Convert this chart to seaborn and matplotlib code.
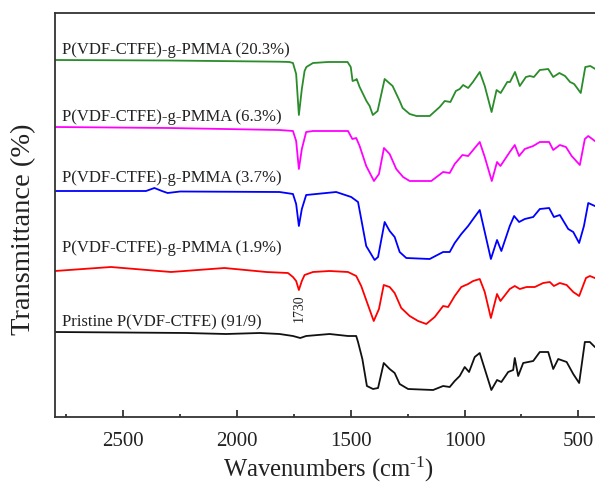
import matplotlib
matplotlib.use("Agg")
import matplotlib.pyplot as plt
from matplotlib.ticker import MultipleLocator
import seaborn as sns
import pandas as pd

sns.set_theme(style="ticks")
plt.rcParams['font.family'] = ['Liberation Serif', 'DejaVu Serif']
plt.rcParams['mathtext.fontset'] = 'custom'
plt.rcParams['mathtext.rm'] = 'Liberation Serif'
plt.rcParams['mathtext.it'] = 'Liberation Serif:italic'

# FTIR spectra (wavenumber cm-1, transmittance in arbitrary offset units)
wn_203 = [2800, 2300, 1813, 1770, 1754, 1740, 1728, 1715, 1703, 1695, 1666, 1600, 1514, 1500, 1492,
          1479, 1474, 1461, 1431, 1417, 1403, 1382, 1351, 1316, 1285, 1272, 1241, 1211, 1153, 1109,
          1087, 1062, 1038, 1021, 1006, 984, 963, 933, 911, 881, 859, 841, 812, 800, 778, 757, 730,
          713, 695, 669, 632, 610, 583, 558, 536, 518, 489, 469, 447, 425, 400]
t_203 = [357, 356.5, 355.3, 355, 354, 343, 302, 328, 346, 350, 354, 355, 355, 350, 336,
         337, 338, 330, 316, 311, 302, 306, 338, 331, 316, 309, 303, 301, 301, 310,
         316, 315, 326, 328, 332, 329, 335, 345, 331, 305, 327, 324, 335, 335, 345, 331, 340,
         341, 340, 347, 348, 340, 344, 341, 335, 333, 324, 350, 351, 348, 347]

wn_63 = [2800, 2300, 1813, 1754, 1740, 1728, 1715, 1696, 1666, 1512, 1493, 1476, 1461, 1432, 1398,
         1376, 1354, 1329, 1300, 1270, 1241, 1146, 1094, 1065, 1043, 1009, 984, 933, 911, 880, 857,
         842, 801, 779, 760, 735, 698, 669, 628, 610, 581, 554, 529, 493, 471, 456, 427, 400]
t_63 = [290, 289, 287, 286, 276, 248, 268, 285, 286, 286, 278, 279, 271, 251, 236,
        243, 269, 263, 248, 240, 236, 236, 245, 244, 253, 262, 261, 275, 260, 236, 255,
        251, 265, 272, 261, 268, 271, 275, 275, 267, 272, 270, 261, 252, 278, 281, 276, 275]

wn_37 = [2800, 2400, 2363, 2330, 2305, 2250, 1813, 1754, 1740, 1728, 1715, 1696, 1564, 1498, 1468,
         1454, 1432, 1395, 1380, 1351, 1329, 1307, 1285, 1256, 1153, 1094, 1065, 1043, 1014, 984,
         962, 933, 911, 884, 857, 838, 801, 782, 760, 735, 698, 669, 628, 607, 581, 544, 522, 496,
         475, 456, 427, 400]
t_37 = [226, 226, 229, 226, 224, 225.5, 225, 223, 213, 191, 208, 222, 225, 220, 215,
        198, 171, 157, 160, 195, 186, 180, 165, 159, 158, 165, 165, 174, 183, 191,
        198, 207, 185, 158, 177, 166, 191, 201, 195, 198, 200, 208, 209, 200, 202, 188, 185, 174,
        191, 214, 211, 210]

wn_19 = [2800, 2554, 2290, 2055, 1871, 1776, 1754, 1740, 1728, 1715, 1703, 1666, 1593, 1512, 1476,
         1454, 1429, 1399, 1376, 1355, 1329, 1307, 1278, 1241, 1204, 1168, 1131, 1094, 1072, 1043,
         1014, 984, 962, 933, 911, 884, 857, 842, 801, 779, 757, 727, 691, 654, 625, 607, 581, 551,
         522, 496, 466, 449, 427, 400]
t_19 = [146, 150, 145, 149, 145, 144, 140, 136, 127, 136, 142, 145, 146, 145, 141,
        131, 115, 96, 108, 132, 130, 124, 109, 101, 96, 93, 100, 111, 110, 121,
        130, 133, 136, 138, 125, 99, 123, 116, 128, 131, 128, 130, 130, 134, 135, 131, 134, 132,
        125, 121, 139, 141, 139, 138]

wn_pristine = [2800, 2500, 2224, 2048, 1900, 1813, 1754, 1722, 1696, 1593, 1512, 1476, 1468, 1449,
               1429, 1402, 1380, 1355, 1329, 1307, 1285, 1248, 1138, 1094, 1065, 1043, 1021, 999,
               980, 955, 933, 911, 882, 857, 838, 808, 786, 779, 764, 742, 698, 669, 632, 610, 588,
               551, 522, 496, 471, 449, 427, 400]
t_pristine = [85, 84.5, 84, 83, 84, 83, 81, 79, 81, 83, 81, 81, 75, 58,
              31, 28, 29, 54, 48, 44, 33, 28, 27, 31, 30, 36, 41, 50,
              45, 60, 64, 48, 27, 37, 35, 45, 47, 59, 41, 54, 56, 65, 65, 48, 58,
              55, 43, 34, 75, 75, 70, 68]

labels = ["P(VDF-CTFE)-g-PMMA (20.3%)", "P(VDF-CTFE)-g-PMMA (6.3%)", "P(VDF-CTFE)-g-PMMA (3.7%)",
          "P(VDF-CTFE)-g-PMMA (1.9%)", "Pristine P(VDF-CTFE) (91/9)"]
label_y = [368, 301, 240, 170, 96]
colors = ["#2a8c2a", "#ff00ff", "#0000ff", "#ff0000", "#111111"]

frames = []
for name, wn, t in zip(labels, [wn_203, wn_63, wn_37, wn_19, wn_pristine],
                       [t_203, t_63, t_37, t_19, t_pristine]):
    frames.append(pd.DataFrame({"wn": wn, "t": t, "sample": name}))
df = pd.concat(frames, ignore_index=True)

fig = plt.figure(figsize=(5.95, 4.85), dpi=100)
# right edge of the frame falls just outside the picture, as in the reference
ax = fig.add_axes([55 / 595, 67 / 485, 546 / 595, 404 / 485])

sns.lineplot(data=df, x="wn", y="t", hue="sample", palette=dict(zip(labels, colors)),
             estimator=None, sort=False, linewidth=1.3, legend=False, ax=ax)

for name, y in zip(labels, label_y):
    ax.text(2768, y, name, fontsize=12, va="center", ha="left", color="#222222")
ax.text(1728, 110, "1730", rotation=90, fontsize=10, ha="center", va="center", color="#222222")

ax.set_xlim(2800, 400)
ax.set_ylim(0, 404)
ax.xaxis.set_major_locator(MultipleLocator(500))
ax.xaxis.set_minor_locator(MultipleLocator(250))
ax.tick_params(axis="x", which="both", direction="in", top=False, bottom=True, labelsize=15, pad=10,
               colors="#222222")
ax.tick_params(axis="x", which="major", length=5, width=1.2)
ax.tick_params(axis="x", which="minor", length=2.5, width=1.2)
ax.set_yticks([])
for s in ax.spines.values():
    s.set_linewidth(1.3)
    s.set_color("#333333")

ax.set_xlabel(r"Wavenumbers (cm$^{\text{-1}}$)", fontsize=17.7, labelpad=3, color="#222222")
ax.set_ylabel("Transmittance (%)", fontsize=20.5, color="#222222")
ax.yaxis.set_label_coords(-0.035, 0.468)

fig.savefig("out.png", dpi=100)
